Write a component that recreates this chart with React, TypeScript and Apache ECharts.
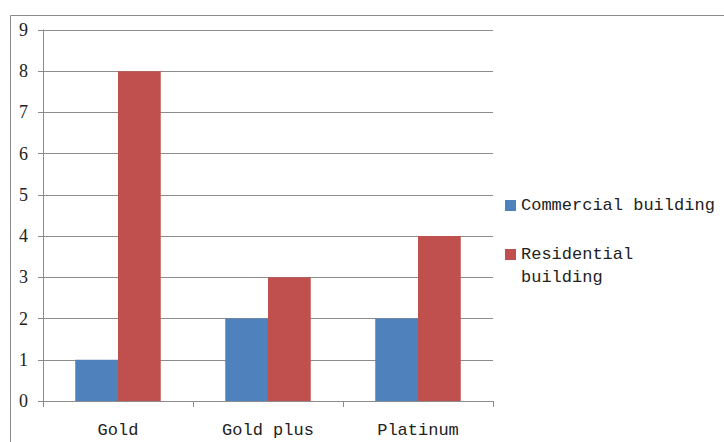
import React, { useEffect, useRef } from "react";
import * as echarts from "echarts";

const categories = ["Gold", "Gold plus", "Platinum"];
const commercial = [1, 2, 2];
const residential = [8, 3, 4];
const seriesNames = ["Commercial building", "Residential building"];

export default function App() {
  const ref = useRef<HTMLDivElement>(null);
  useEffect(() => {
    if (!ref.current) return;
    const chart = echarts.init(ref.current, null, { renderer: "svg" });
    const gray = "#8c8c8c";
    const font = "Courier New, Liberation Mono, monospace";
    chart.setOption({
      animation: false,
      backgroundColor: "#ffffff",
      textStyle: { fontFamily: font },
      graphic: [
        {
          type: "rect",
          shape: { x: 10.5, y: 15.5, width: 800, height: 600 },
          style: { fill: "none", stroke: "#8a8a8a", lineWidth: 1 },
          silent: true,
        },
      ],
      grid: { left: 43, top: 30, right: 231, bottom: 41 },
      legend: [
        {
          data: [seriesNames[0]],
          left: 505,
          top: 197,
          padding: 0,
          itemWidth: 11,
          itemHeight: 11,
          icon: "rect",
          textStyle: { fontFamily: font, fontSize: 17, color: "#222" },
        },
        {
          data: [seriesNames[1]],
          left: 505,
          top: 220,
          padding: 0,
          itemWidth: 11,
          itemHeight: 11,
          icon: "rect",
          formatter: (n: string) => "\n" + n.replace(" ", "\n"),
          textStyle: {
            fontFamily: font,
            fontSize: 17,
            color: "#222",
            lineHeight: 23,
          },
        },
      ],
      xAxis: {
        type: "category",
        data: categories,
        axisLine: { lineStyle: { color: gray } },
        axisTick: { show: true, length: 6, lineStyle: { color: gray } },
        axisLabel: { fontFamily: font, fontSize: 17, color: "#222", margin: 21 },
      },
      yAxis: {
        type: "value",
        min: 0,
        max: 9,
        interval: 1,
        axisLine: { show: true, lineStyle: { color: gray } },
        axisTick: { show: true, length: 5, lineStyle: { color: gray } },
        splitLine: { lineStyle: { color: gray } },
        axisLabel: {
          fontFamily: "serif",
          fontSize: 18,
          color: "#222",
          margin: 15,
        },
      },
      series: [
        {
          name: seriesNames[0],
          type: "bar",
          data: commercial,
          itemStyle: { color: "#4F81BD" },
          barGap: "0%",
          barCategoryGap: "43%",
        },
        {
          name: seriesNames[1],
          type: "bar",
          data: residential,
          itemStyle: { color: "#C0504D" },
          barGap: "0%",
          barCategoryGap: "43%",
        },
      ],
    });
    return () => chart.dispose();
  }, []);
  return (
    <div
      ref={ref}
      style={{ position: "absolute", left: 0, top: 0, width: 724, height: 442 }}
    />
  );
}
